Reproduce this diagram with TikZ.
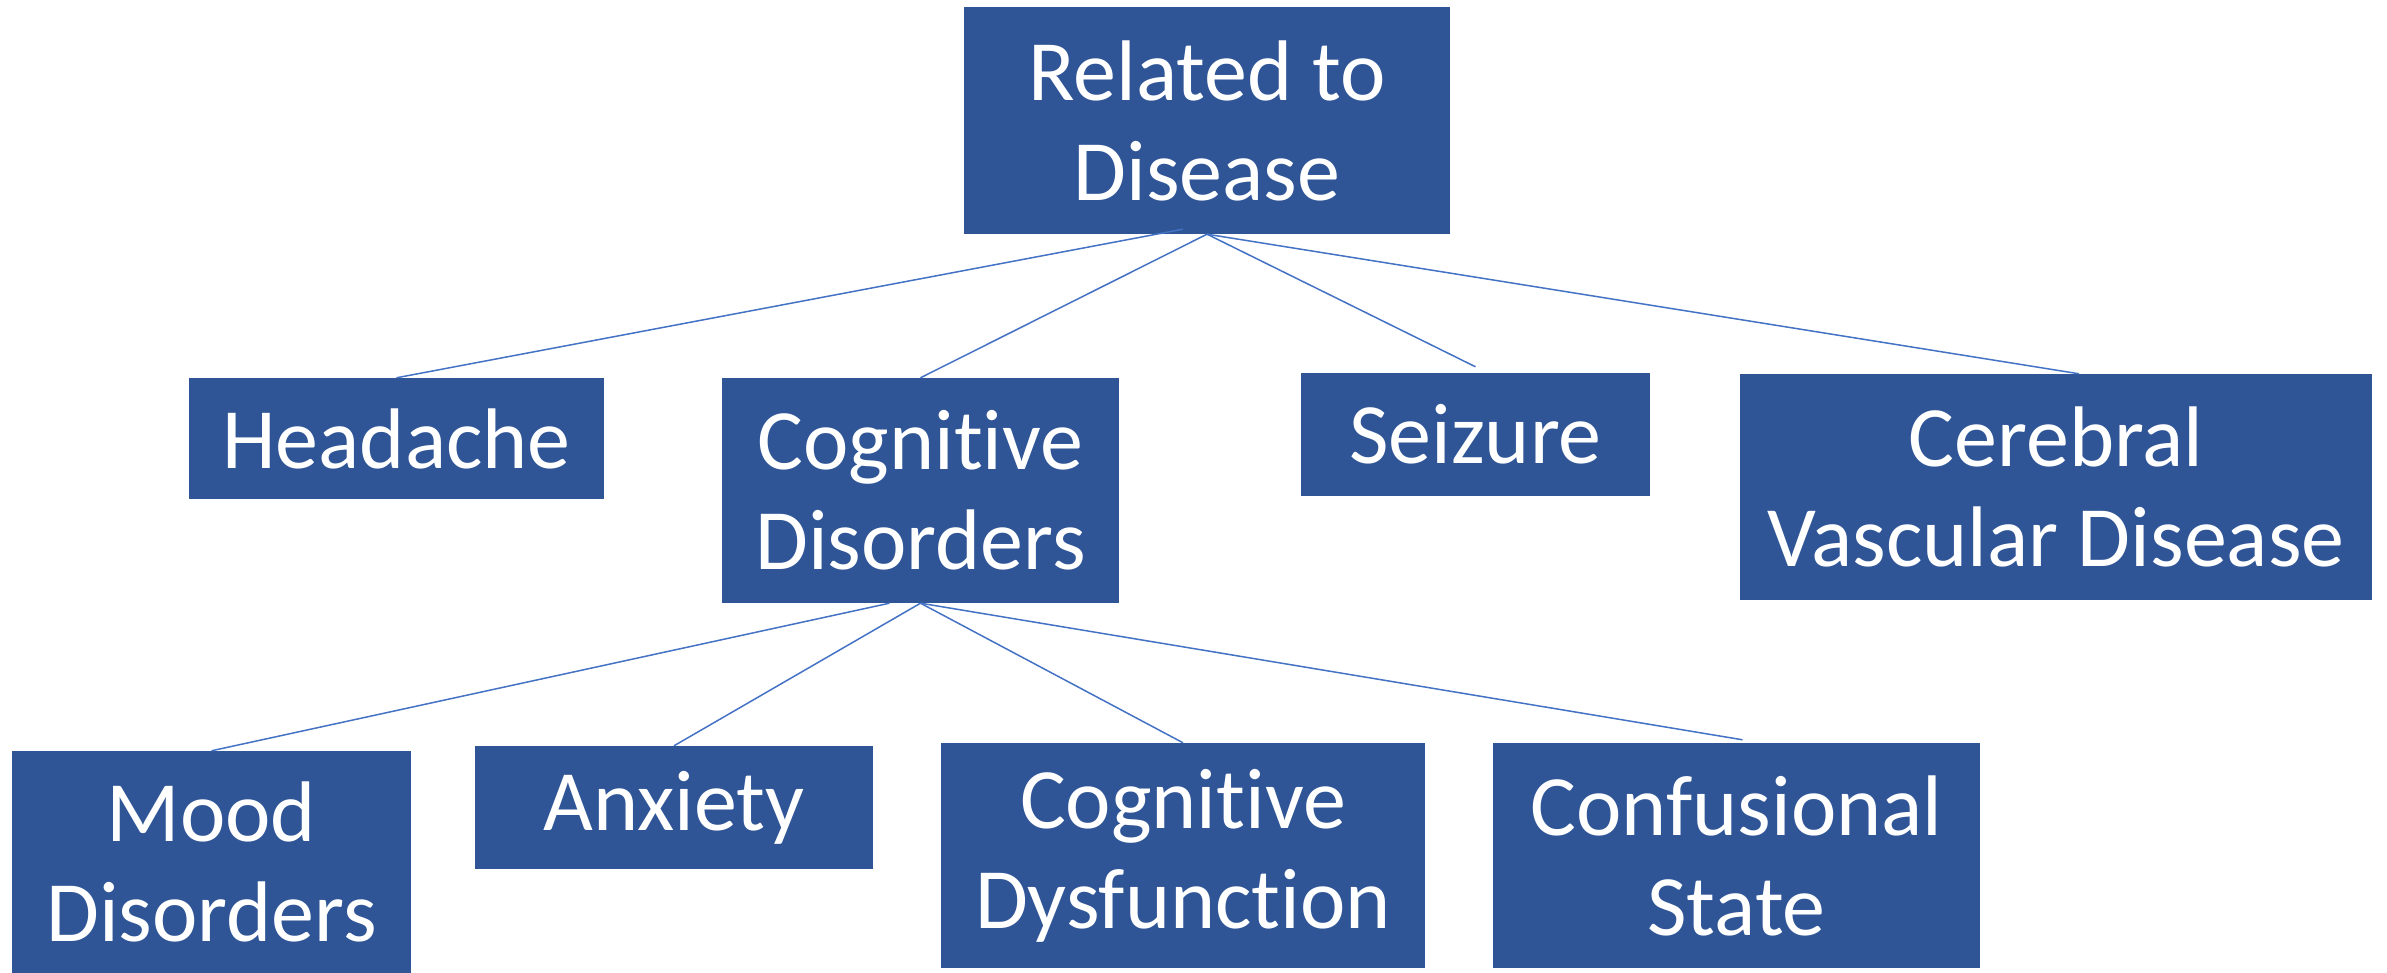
\documentclass[tikz,border=0pt]{standalone}
\usepackage{fontspec}
\setmainfont{Carlito}[Ligatures=NoCommon]
\definecolor{boxblue}{HTML}{2F5597}
\definecolor{lineblue}{HTML}{4472C4}
\tikzset{
  box/.style={fill=boxblue,text=white,align=center,inner sep=0pt,
    font=\fontsize{86}{100}\selectfont},
  link/.style={draw=lineblue,line width=1.5pt}
}
\begin{document}
\begin{tikzpicture}[x=1pt,y=1pt,line join=round]
		\useasboundingbox (0,0) rectangle (2387,973);
		% top
		\node[box,minimum width=486,minimum height=227] (root) at (1207,852.5) {Related to\\Disease};
		% second row
		\node[box,minimum width=415,minimum height=121] (headache) at (396.5,534.5) {Headache};
		\node[box,minimum width=397,minimum height=225] (cogdis) at (920.5,482.5) {Cognitive\\Disorders};
		\node[box,minimum width=349,minimum height=123] (seizure) at (1475.5,538.5) {Seizure};
		\node[box,minimum width=632,minimum height=226] (cerebral) at (2056,486) {Cerebral\\Vascular Disease};
		% third row
		\node[box,minimum width=399,minimum height=222] (mood) at (211.5,111) {Mood\\Disorders};
		\node[box,minimum width=398,minimum height=123] (anxiety) at (674,165.5) {Anxiety};
		\node[box,minimum width=484,minimum height=225] (cogdys) at (1183,117.5) {Cognitive\\Dysfunction};
		\node[box,minimum width=487,minimum height=225] (confus) at (1736.5,117.5) {Confusional\\State};
		% connectors
		\draw[link] ([xshift=-24pt,yshift=5pt]root.south)--(headache.north);
		\draw[link] (root.south)--(cogdis.north);
		\draw[link] (root.south)--([yshift=6pt]seizure.north);
		\draw[link] (root.south)--([xshift=23pt]cerebral.north);
		\draw[link] ([xshift=-31pt]cogdis.south)--(mood.north);
		\draw[link] (cogdis.south)--(anxiety.north);
		\draw[link] (cogdis.south)--(cogdys.north);
		\draw[link] (cogdis.south)--([xshift=6pt,yshift=3pt]confus.north);
\end{tikzpicture}
\end{document}
